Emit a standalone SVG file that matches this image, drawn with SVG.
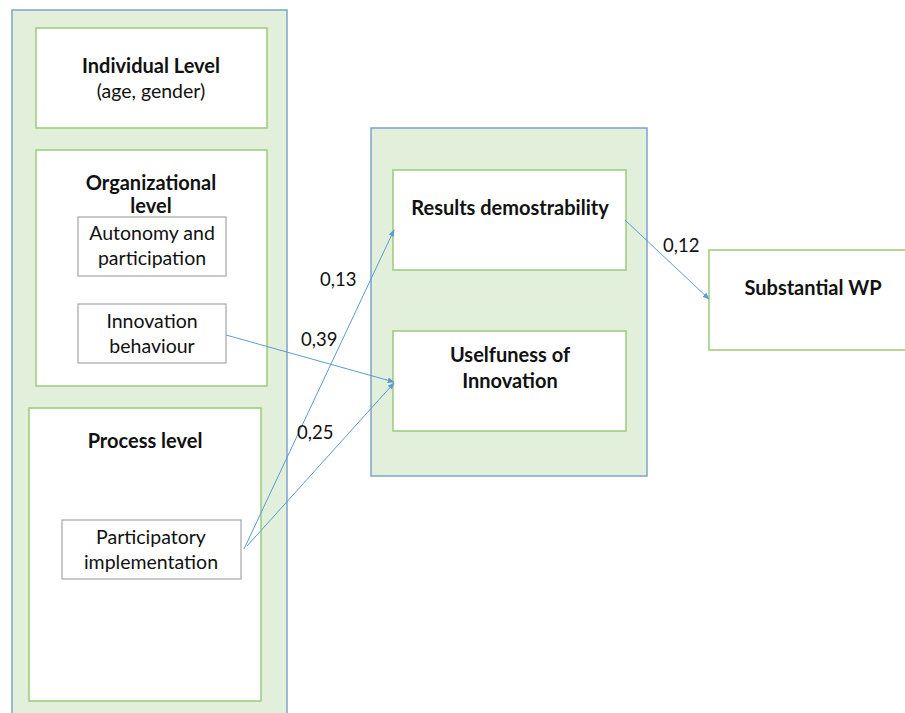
<svg xmlns="http://www.w3.org/2000/svg" width="905" height="713" viewBox="0 0 905 713">
<defs>
<marker id="ah" viewBox="0 0 10 10" refX="9" refY="5" markerWidth="7" markerHeight="7" orient="auto" markerUnits="userSpaceOnUse">
<path d="M0,1 L10,5 L0,9 z" fill="#5B9BD5"/>
</marker>
<style>
.panel{fill:#E2EFDA;stroke:#7FA3C8;stroke-width:1.5}
.box{fill:#fff;stroke:#9BCB7A;stroke-width:1.5}
.sub{fill:#fff;stroke:#A6A6A6;stroke-width:1.2}
text{font-family:Lato,"Open Sans","Liberation Sans",sans-serif;fill:#111;text-anchor:middle}
.b{font-weight:bold;font-size:20px}
.n{font-size:19.5px}
.lbl{font-size:18.5px;text-anchor:start}
.conn{stroke:#5B9BD5;stroke-width:1;fill:none;marker-end:url(#ah)}
</style>
</defs>
<rect width="905" height="713" fill="#fff"/>
<g id="left-panel"><rect class="panel" x="12" y="10" width="275" height="710"/></g>
<g id="individual"><rect class="box" x="36" y="28" width="231" height="100"/>
<text class="b" x="151" y="73">Individual Level</text>
<text class="n" x="151" y="98">(age, gender)</text></g>
<g id="organizational"><rect class="box" x="36" y="150" width="231" height="236"/>
<text class="b" x="151" y="190">Organizational</text>
<text class="b" x="151" y="213">level</text></g>
<g id="autonomy"><rect class="sub" x="78" y="217" width="148" height="59"/>
<text class="n" x="152" y="240">Autonomy and</text>
<text class="n" x="152" y="265">participation</text></g>
<g id="innovation-behaviour"><rect class="sub" x="78" y="304" width="148" height="59"/>
<text class="n" x="152" y="328">Innovation</text>
<text class="n" x="152" y="353">behaviour</text></g>
<g id="process"><rect class="box" x="29" y="408" width="232" height="293"/>
<text class="b" x="145" y="448">Process level</text></g>
<g id="participatory"><rect class="sub" x="62" y="520" width="179" height="59"/>
<text class="n" x="151" y="544">Participatory</text>
<text class="n" x="151" y="569">implementation</text></g>
<g id="middle-panel"><rect class="panel" x="371" y="128" width="276" height="348"/></g>
<g id="results"><rect class="box" x="393" y="170" width="233" height="100"/>
<text class="b" x="510" y="215">Results demostrability</text></g>
<g id="usefulness"><rect class="box" x="393" y="331" width="233" height="100"/>
<text class="b" x="510" y="362">Uselfuness of</text>
<text class="b" x="510" y="388">Innovation</text></g>
<g id="substantial"><rect class="box" x="709" y="250" width="210" height="100"/>
<text class="b" x="813" y="295">Substantial WP</text></g>
<g id="connectors">
<line class="conn" x1="226" y1="335" x2="394" y2="382"/>
<line class="conn" x1="244" y1="549" x2="394" y2="230"/>
<line class="conn" x1="247" y1="546" x2="394" y2="383"/>
<line class="conn" x1="625" y1="220" x2="709" y2="299"/>
<text class="lbl" x="320" y="286">0,13</text>
<text class="lbl" x="301" y="346">0,39</text>
<text class="lbl" x="297" y="439">0,25</text>
<text class="lbl" x="663" y="252">0,12</text>
</g>
</svg>
